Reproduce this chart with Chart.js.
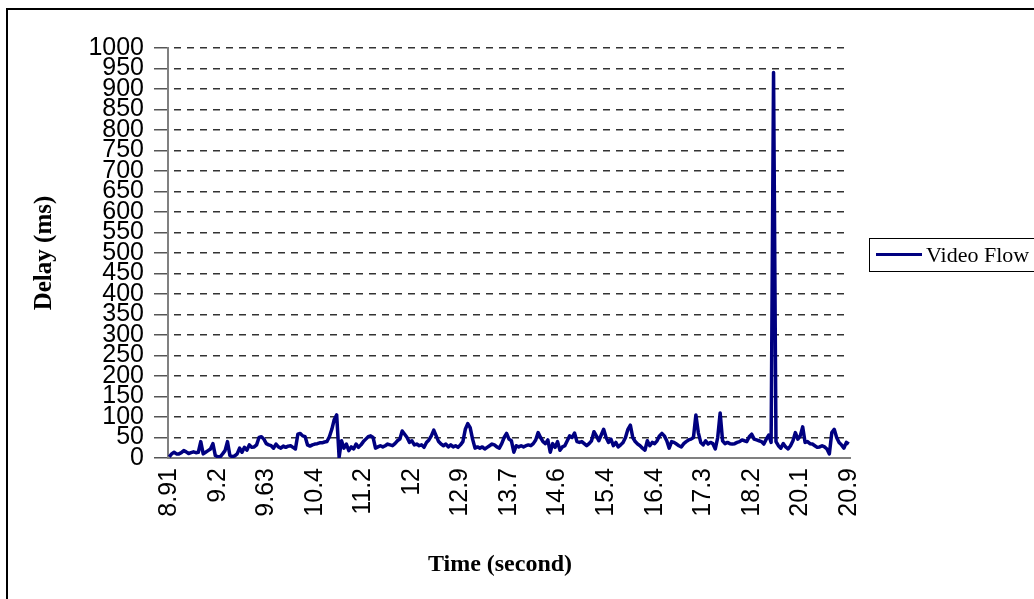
<!DOCTYPE html>
<html>
<head>
<meta charset="utf-8">
<script src="https://cdn.jsdelivr.net/npm/chart.js@4/dist/chart.umd.min.js"></script>
<style>
  html, body { margin: 0; padding: 0; background: #ffffff; }
  #wrap { width: 1034px; height: 599px; position: relative; }
</style>
</head>
<body>
<div id="wrap"><canvas id="c" width="1034" height="599"></canvas></div>
<script>
// ---- data ----
const seriesName = "Video Flow";
const xTitle = "Time (second)";
const yTitle = "Delay (ms)";
// tick labels shown on the time axis (one every 20 samples)
const timeTickLabels = ["8.91","9.2","9.63","10.4","11.2","12","12.9","13.7","14.6","15.4","16.4","17.3","18.2","20.1","20.9"];
const tickEvery = 20;
// delay values (ms), one per sample
const delayPart1 = [3,10,14,10,10,13,18,15,11,13, 15,13,14,40,10,14,18,22,35,6,
  3,3,10,18,40,6,3,5,10,24, 14,26,19,32,26,27,32,50,52,46,
  35,32,30,24,34,27,24,29,26,29, 30,26,22,58,60,54,52,32,29,32, 34,35,37];
const delayPart2 = [37,39,40,52,70,94,105,2,42,24, 34,18,27,22,34,26,32,40,46,52,
  54,50,24,27,30,27,30,34,32,30, 35,42,46,66,58,50,38,42,32,34,
  30,32,26,38,44,54,68,54,40,34, 30,34,27,32,27,30,26,32,40,70, 84,74,46,24,27,24,27,22,26];
const delayPart3 = [30,34,32,27,24,35,50,60,46,42, 14,30,27,30,27,30,32,30,35,44,
  62,50,40,35,44,14,35,26,40,19, 27,30,42,54,50,61,40,38,40,35,
  30,35,42,64,54,42,56,70,50,38, 46,30,38,27,32,38,50,70,80,50, 40,34,30,24,19,42,30];
const delayPart4 = [38,35,42,54,60,54,42,24,40,38, 34,30,27,35,40,44,46,50,105,62,
  38,32,42,34,38,35,22,50,110,42, 35,38,35,34,35,38,40,44,42,40,
  52,58,46,44,42,40,34,46,56,38, 940,40,30,24,35,27,22,30,42,62,
  46,54,76,38,40,35,34,30,26,27, 30,27,22,10,62,70,50,38,32,24, 38,34];
const yTicksMin = 0, yTicksMax = 1000, yTickStep = 50;

const delays = delayPart1.concat(delayPart2, delayPart3, delayPart4);
const categories = delays.map((_, i) => (i % tickEvery === 0 && timeTickLabels[i / tickEvery] !== undefined) ? timeTickLabels[i / tickEvery] : "");

const NAVY = "#000080";
const SERIF = "'Liberation Serif', 'Times New Roman', serif";
const SANS = "'Liberation Sans', Arial, sans-serif";

const framePlugin = {
  id: "frame",
  beforeDraw(chart) {
    const ctx = chart.ctx;
    ctx.save();
    ctx.fillStyle = "#ffffff";
    ctx.fillRect(0, 0, chart.width, chart.height);
    ctx.strokeStyle = "#000000";
    ctx.lineWidth = 2;
    ctx.beginPath();
    ctx.moveTo(7, chart.height);
    ctx.lineTo(7, 9);
    ctx.lineTo(chart.width, 9);
    ctx.stroke();
    ctx.restore();
  },
  afterDraw(chart) {
    const ctx = chart.ctx;
    ctx.save();
    // x-axis title (placed as in the reference, centred a little left of the plot centre)
    ctx.fillStyle = "#000000";
    ctx.font = "bold 24px " + SERIF;
    ctx.textBaseline = "middle";
    ctx.textAlign = "center";
    ctx.fillText(xTitle, 500, 565);
    // legend box
    ctx.strokeStyle = "#000000";
    ctx.lineWidth = 1;
    ctx.strokeRect(869.5, 238.5, 200, 33);
    ctx.strokeStyle = NAVY;
    ctx.lineWidth = 3;
    ctx.beginPath();
    ctx.moveTo(876, 254.5);
    ctx.lineTo(922, 254.5);
    ctx.stroke();
    ctx.fillStyle = "#000000";
    ctx.font = "22px " + SERIF;
    ctx.textBaseline = "middle";
    ctx.textAlign = "left";
    ctx.fillText(chart.data.datasets[0].label, 926, 256);
    ctx.restore();
  }
};

new Chart(document.getElementById("c"), {
  type: "line",
  data: {
    labels: categories,
    datasets: [{
      label: seriesName,
      data: delays,
      borderColor: NAVY,
      backgroundColor: NAVY,
      borderWidth: 3.5,
      pointRadius: 0,
      pointHoverRadius: 0,
      tension: 0,
      fill: false,
      borderJoinStyle: "round"
    }]
  },
  options: {
    responsive: false,
    animation: false,
    events: [],
    layout: { padding: { top: 48, right: 184, bottom: 0, left: 0 } },
    plugins: { legend: { display: false }, tooltip: { enabled: false }, title: { display: false } },
    scales: {
      x: {
        type: "category",
        offset: true,
        grid: { display: false, drawTicks: false },
        border: { display: true, color: "#808080", width: 2 },
        ticks: {
          autoSkip: false,
          maxRotation: 90,
          minRotation: 90,
          padding: 10,
          color: "#000000",
          font: { family: SANS, size: 25 },
          callback: function (val, idx) { const l = categories[idx]; return l === "" ? null : l; }
        },
        title: { display: false },
        afterFit: (s) => { s.height = 141; }
      },
      y: {
        min: yTicksMin,
        max: yTicksMax,
        grid: {
          color: "#333333",
          lineWidth: 1.5,
          drawTicks: true,
          tickLength: 14,
          tickColor: "#555555",
          tickBorderDash: [],
          tickWidth: 1.5
        },
        border: { display: true, color: "#808080", width: 2, dash: [7, 6], dashOffset: 8 },
        ticks: {
          stepSize: yTickStep,
          padding: 10,
          color: "#000000",
          font: { family: SANS, size: 25 },
          autoSkip: false,
          callback: (v) => String(v)
        },
        title: {
          display: true,
          text: yTitle,
          color: "#000000",
          font: { family: SERIF, size: 25, weight: "bold" },
          padding: { top: 30, bottom: 0 }
        },
        afterFit: (s) => { s.width = 168; }
      }
    }
  },
  plugins: [framePlugin]
});
</script>
</body>
</html>
